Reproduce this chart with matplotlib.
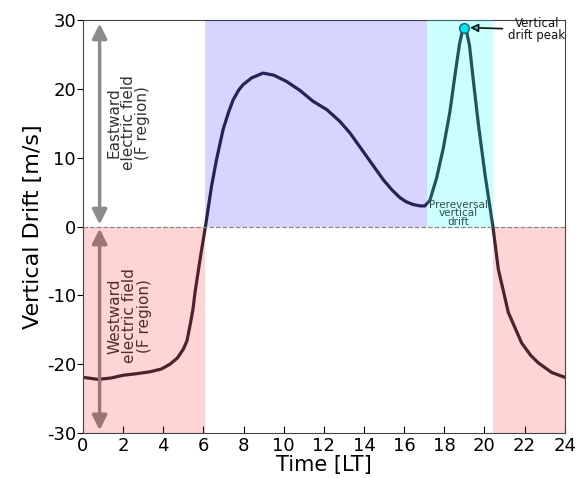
import matplotlib
matplotlib.use("Agg")
import matplotlib.pyplot as plt

plt.rcParams["axes.unicode_minus"] = False

# Data
time_lt = [0.0, 0.75, 1.4, 2.0, 2.6, 3.33, 3.9, 4.33, 4.7, 5.0, 5.18, 5.33, 5.48,
           5.58, 5.83, 6.1, 6.4, 6.65, 6.98, 7.25, 7.48, 7.75, 7.97, 8.4, 8.97,
           9.5, 10.13, 10.8, 11.46, 12.14, 12.79, 13.3, 14.13, 14.96, 15.4,
           15.79, 16.1, 16.45, 16.8, 17.03, 17.28, 17.62, 17.95, 18.28, 18.53,
           18.75, 18.88, 18.98, 19.1, 19.25, 19.45, 19.7, 20.03, 20.42, 20.69,
           21.19, 21.85, 22.3, 22.68, 23.35, 24.0]
drift = [-21.9, -22.2, -22.0, -21.6, -21.4, -21.1, -20.7, -20.0, -19.1, -17.8,
         -16.6, -14.4, -12.0, -9.6, -4.8, 0.0, 5.8, 9.7, 14.1, 16.6, 18.4, 19.8,
         20.6, 21.6, 22.3, 22.0, 21.1, 19.8, 18.2, 17.0, 15.3, 13.6, 10.2, 6.8,
         5.3, 4.2, 3.6, 3.2, 3.0, 3.0, 3.8, 7.1, 11.4, 16.7, 22.0, 26.4, 28.2,
         28.9, 28.4, 26.4, 21.1, 14.8, 7.5, 0.0, -6.2, -12.5, -16.9, -18.7,
         -19.8, -21.2, -21.9]
peak_time, peak_value = 18.98, 28.9
xticks = list(range(0, 25, 2))
yticks = [-30, -20, -10, 0, 10, 20, 30]

fig = plt.figure(figsize=(5.77, 4.78), dpi=100)
ax = fig.add_axes([0.1438, 0.094, 0.835, 0.864])

ax.plot(time_lt, drift, color="#2a2a36", lw=2.3, zorder=2,
        solid_capstyle="round", solid_joinstyle="round")

# shaded regions (on top, translucent)
ax.axvspan(0, 6.08, ymin=0, ymax=0.5, color="#ff0000", alpha=0.17, lw=0, zorder=3)
ax.axvspan(6.08, 17.13, ymin=0.5, ymax=1, color="#0000ff", alpha=0.165, lw=0, zorder=3)
ax.axvspan(17.13, 20.42, ymin=0.5, ymax=1, color="#00ffff", alpha=0.2, lw=0, zorder=3)
ax.axvspan(20.42, 24, ymin=0, ymax=0.5, color="#ff0000", alpha=0.17, lw=0, zorder=3)

ax.axhline(0, color="#888888", lw=0.9, ls="--", zorder=4)

# double arrows
ax.annotate("", xy=(0.83, 29.5), xytext=(0.83, 0.3),
            arrowprops=dict(arrowstyle="<|-|>", color="#8c8c8c", lw=2.5,
                            mutation_scale=22, shrinkA=0, shrinkB=0), zorder=2)
ax.annotate("", xy=(0.83, -29.6), xytext=(0.83, -0.3),
            arrowprops=dict(arrowstyle="<|-|>", color="#8c8c8c", lw=2.5,
                            mutation_scale=22, shrinkA=0, shrinkB=0), zorder=2)

ax.text(2.25, 15.1, "Eastward\nelectric field\n(F region)", rotation=90,
        ha="center", va="center", fontsize=11, color="#333333",
        linespacing=0.95, zorder=5)
ax.text(2.33, -13.0, "Westward\nelectric field\n(F region)", rotation=90,
        ha="center", va="center", fontsize=11, color="#333333",
        linespacing=0.95, zorder=1)

ax.text(18.7, 1.9, "Prereversal\nvertical\ndrift", ha="center", va="center",
        fontsize=7.5, color="#2f4f4f", linespacing=0.85, zorder=5)

ax.plot([peak_time], [peak_value], "o", ms=7, mfc="#00e5ee", mec="#0d6b6b",
        mew=1, zorder=6)
ax.annotate("Vertical\ndrift peak", xy=(peak_time + 0.3, peak_value),
            xytext=(22.6, 28.6), ha="center", va="center", fontsize=8.5,
            linespacing=0.85, color="#111111", zorder=6,
            arrowprops=dict(arrowstyle="-|>", fc="#00e5ee", ec="#111111",
                            lw=1.2, mutation_scale=12, shrinkA=2, shrinkB=0))

ax.set_xlim(0, 24)
ax.set_ylim(-30, 30)
ax.set_xticks(xticks)
ax.set_yticks(yticks)
ax.tick_params(axis="x", direction="in", labelsize=13, length=5, pad=3)
ax.tick_params(axis="y", direction="out", labelsize=13, length=4, pad=1)
for s in ax.spines.values():
    s.set_color("#444444")
ax.set_xlabel("Time [LT]", fontsize=15, labelpad=0)
ax.set_ylabel("Vertical Drift [m/s]", fontsize=16, labelpad=3)

fig.savefig("out.png", dpi=100)
